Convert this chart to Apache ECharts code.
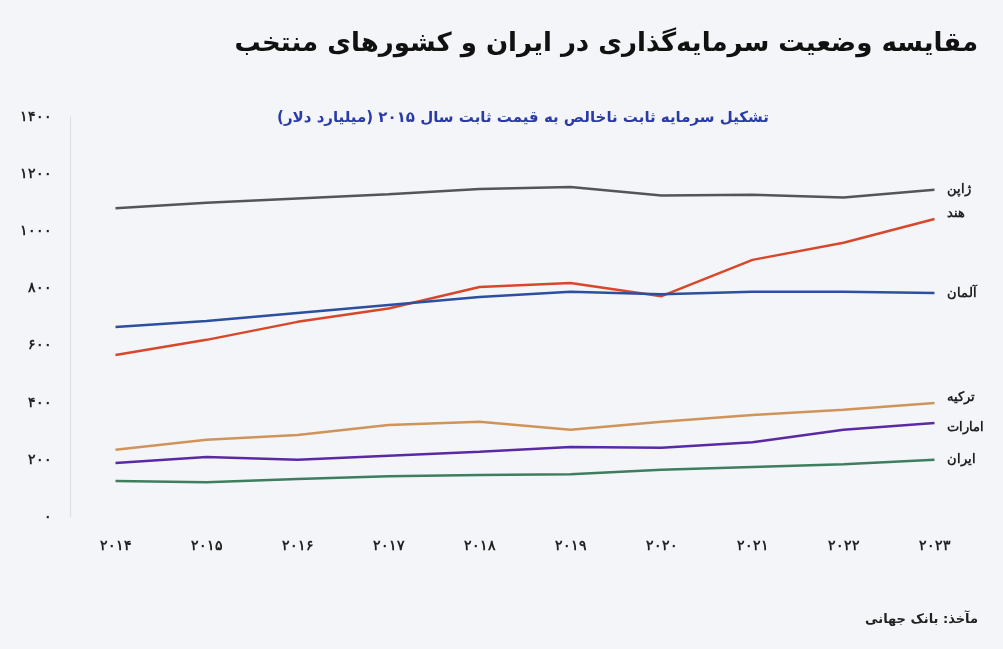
<!DOCTYPE html>
<html><head><meta charset="utf-8">
<script src="https://cdn.jsdelivr.net/npm/echarts@6/dist/echarts.min.js"></script>
<style>html,body{margin:0;background:#f4f5f8}#c{width:1003px;height:649px}</style>
</head><body><div id="c"></div>
<script>
const years=['2014','2015','2016','2017','2018','2019','2020','2021','2022','2023'];
const yTicks=[0,200,400,600,800,1000,1200,1400];
const names=['ژاپن','هند','آلمان','ترکیه','امارات','ایران'];
const japan=[1081,1100,1115,1130,1148,1155,1125,1128,1118,1145];
const india=[567,620,683,730,805,819,773,900,960,1043];
const germany=[665,686,714,742,770,788,780,788,788,784];
const turkey=[235,270,287,322,333,305,333,357,375,399];
const uae=[189,210,200,214,228,245,242,262,305,329];
const iran=[126,122,133,143,147,150,165,175,185,200];
const colors=['#55545a','#d9472b','#2c4fa0','#d0935a','#5a2aa6','#3e7d5e'];
const fa=s=>String(s).replace(/\d/g,d=>'۰۱۲۳۴۵۶۷۸۹'[d]);
const data=[japan,india,germany,turkey,uae,iran];
const offs=[0,-6,0,-6,4,0];
const ch=echarts.init(document.getElementById('c'));
ch.setOption({
 animation:false,
 title:[{text:'مقایسه وضعیت سرمایه‌گذاری در ایران و کشورهای منتخب',right:20,top:26,textStyle:{fontSize:26,fontWeight:'bold',color:'#111',fontFamily:'DejaVu Sans'}},
  {text:'تشکیل سرمایه ثابت ناخالص به قیمت ثابت سال ۲۰۱۵ (میلیارد دلار)',left:518,textAlign:'center',top:106,textStyle:{fontSize:15,fontWeight:'bold',color:'#2a3aa8',fontFamily:'DejaVu Sans'}},
  {text:'مآخذ: بانک جهانی',right:20,top:608,textStyle:{fontSize:13,fontWeight:'bold',color:'#222',fontFamily:'DejaVu Sans'}}],
 grid:{left:70,right:23,top:117,bottom:132},
 xAxis:{type:'category',data:years,axisLine:{show:false},axisTick:{show:false},
  axisLabel:{formatter:fa,margin:22,fontWeight:'bold',fontSize:14,color:'#222'}},
 yAxis:{type:'value',min:0,max:1400,interval:200,splitLine:{show:false},
  axisLine:{show:true,lineStyle:{color:'#dcdde2'}},
  axisLabel:{formatter:v=>yTicks.includes(v)?fa(v):'',fontWeight:'bold',fontSize:14,color:'#222',margin:18}},
 series:names.map((n,i)=>({name:n,type:'line',data:data[i],symbol:'none',
  lineStyle:{color:colors[i],width:2.5},
  endLabel:{show:true,formatter:n,color:'#222',fontWeight:'bold',fontSize:13,offset:[4,offs[i]]}}))
});
</script></body></html>
